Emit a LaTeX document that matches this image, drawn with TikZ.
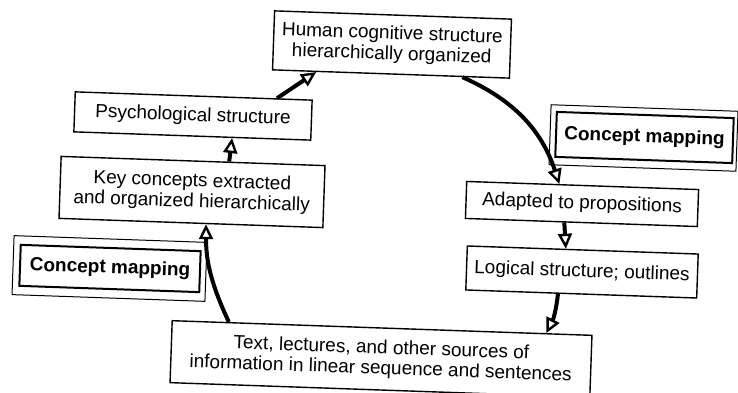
\documentclass[tikz,border=0pt]{standalone}
\usepackage{fontspec}
\setmainfont{Liberation Sans}
\usetikzlibrary{arrows.meta,calc}

\tikzset{
  box/.style={draw, line width=1.4pt, fill=white, rotate=-2, align=center,
    inner sep=2pt, font=\fontsize{19}{20.5}\selectfont},
  cmbox/.style={box, line width=2pt, font=\fontsize{19}{20.5}\selectfont\bfseries},
  cmframe/.style={draw, line width=1pt, rotate=-2, inner sep=0pt},
  flow/.style={line width=4pt,
    -{Triangle[open, length=15pt, width=14pt, line width=2.4pt]}}
}

\begin{document}
\begin{tikzpicture}[x=1pt,y=1pt]
\useasboundingbox (0,0) rectangle (738,393);

% cycle boxes
\node[box, minimum width=237, minimum height=59] (human) at (392,348.5)
  {Human cognitive structure\\hierarchically organized};
\node[box, minimum width=237, minimum height=40] (psych) at (193,277)
  {Psychological structure};
\node[box, minimum width=264, minimum height=62] (key) at (192,201)
  {Key concepts extracted\\and organized hierarchically};
\node[box, minimum width=232, minimum height=37] (adapt) at (582,189)
  {Adapted to propositions};
\node[box, minimum width=231, minimum height=44] (logic) at (582,121)
  {Logical structure; outlines};
\node[box, minimum width=420, minimum height=62] (txt) at (381,34)
  {Text, lectures, and other sources of\\information in linear sequence and sentences};

% double-framed labels
\node[cmframe, minimum width=193, minimum height=59] (cmLout) at (109.5,124.5) {};
\node[cmbox, minimum width=180, minimum height=41] (cmL) at (110,124.5) {Concept mapping};
\node[cmframe, minimum width=187, minimum height=60] (cmRout) at (643.5,255) {};
\node[cmbox, minimum width=177, minimum height=45] (cmR) at (644.5,255.5) {Concept mapping};

% flow of the cycle
\draw[flow] ($(txt.north west)!0.136!(txt.north east)$) to[out=115, in=-90]
  ($(key.south west)!0.557!(key.south east)$);
\draw[flow] ($(key.north west)!0.636!(key.north east)$) --
  ($(psych.south west)!0.667!(psych.south east)$);
\draw[flow] ($(psych.north west)!0.85!(psych.north east)$) --
  ($(human.south west)!0.186!(human.south east)$);
\draw[flow] ($(human.south west)!0.80!(human.south east)$) to[bend left=24]
  ($(adapt.north west)!0.40!(adapt.north east)$);
\draw[flow] ($(adapt.south west)!0.427!(adapt.south east)$) --
  ($(logic.north west)!0.427!(logic.north east)$);
\draw[flow] ($(logic.south west)!0.40!(logic.south east)$) to[bend left=10]
  ($(txt.north west)!0.89!(txt.north east)$);
\end{tikzpicture}
\end{document}
